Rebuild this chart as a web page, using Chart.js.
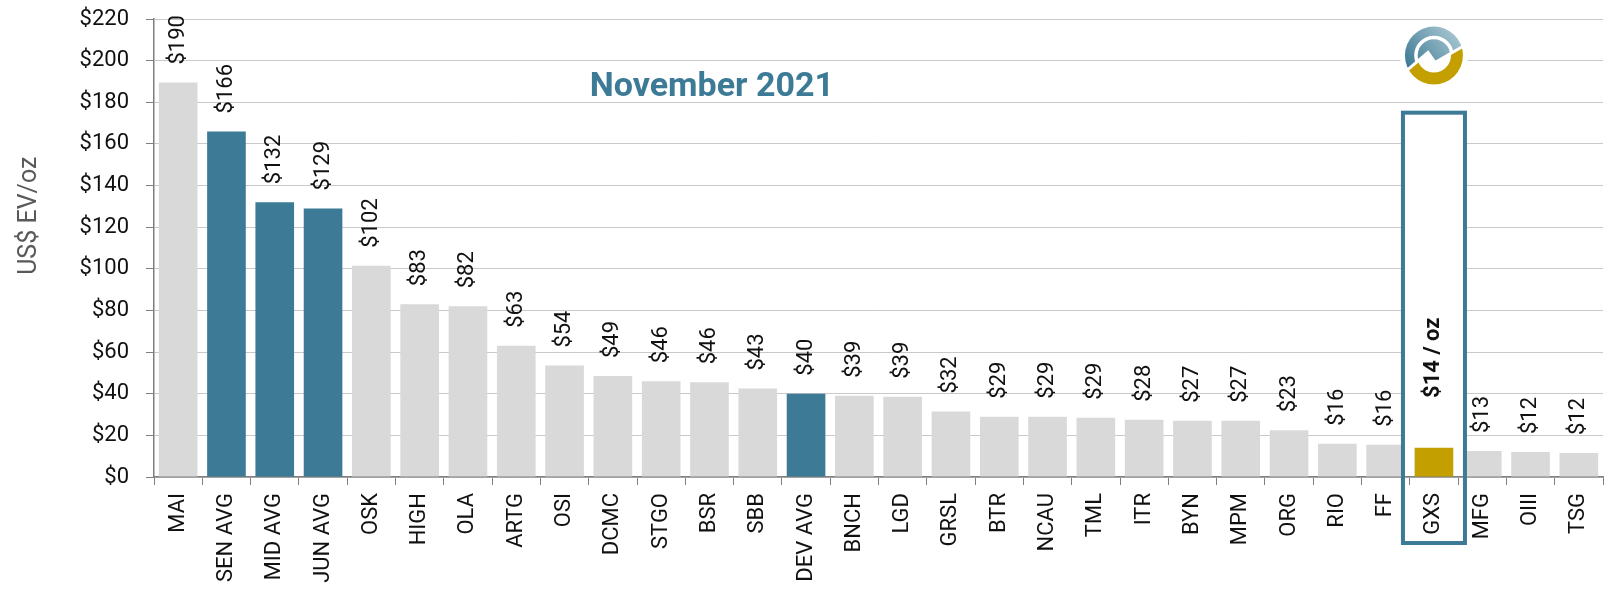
<!DOCTYPE html>
<html>
<head>
<meta charset="utf-8">
<script src="https://cdn.jsdelivr.net/npm/chart.js@4.4.1/dist/chart.umd.min.js"></script>
<style>
  html, body { margin: 0; padding: 0; background: #fff; }
  #wrap { width: 1624px; height: 594px; position: relative; }
</style>
</head>
<body>
<div id="wrap"><canvas id="evChart"></canvas></div>
<script>
const companies = [
  "MAI", "SEN AVG", "MID AVG", "JUN AVG", "OSK", "HIGH", "OLA", "ARTG", "OSI", "DCMC",
  "STGO", "BSR", "SBB", "DEV AVG", "BNCH", "LGD", "GRSL", "BTR", "NCAU", "TML",
  "ITR", "BYN", "MPM", "ORG", "RIO", "FF", "GXS", "MFG", "OIII", "TSG"
];
const evPerOz = [
  189.5, 166, 132, 129, 101.5, 83, 82, 63, 53.5, 48.5,
  46, 45.5, 42.5, 40, 39, 38.5, 31.5, 29, 29, 28.5,
  27.5, 27, 27, 22.5, 16, 15.5, 14, 12.5, 12, 11.5
];
const averages = ["SEN AVG", "MID AVG", "JUN AVG", "DEV AVG"];
const highlight = "GXS";
const highlightNote = "$14 / oz";
const yTicks = { min: 0, max: 220, step: 20 };
const yTitle = "US$ EV/oz";

const GREY = "#d9d9d9";
const BLUE = "#3c7a96";
const GOLD = "#c49f00";

const barColors = companies.map((c) =>
  c === highlight ? GOLD : averages.includes(c) ? BLUE : GREY
);

// rotated value labels above each bar
const valueLabels = {
  id: "valueLabels",
  afterDatasetsDraw(chart) {
    const { ctx, scales } = chart;
    const meta = chart.getDatasetMeta(0);
    ctx.save();
    ctx.fillStyle = "#111";
    ctx.textBaseline = "middle";
    ctx.textAlign = "left";
    meta.data.forEach((bar, i) => {
      let text = "$" + Math.round(evPerOz[i]);
      let y = bar.y - 18;
      ctx.font = "22px Roboto";
      if (companies[i] === highlight) {
        text = highlightNote;
        y = scales.y.getPixelForValue(38);
        ctx.font = "bold 22px Roboto";
      }
      ctx.save();
      ctx.translate(bar.x, y);
      ctx.rotate(-Math.PI / 2);
      ctx.fillText(text, 0, 0);
      ctx.restore();
    });
    ctx.restore();
  }
};

// box around the highlighted company, titles and logo
const decorations = {
  id: "decorations",
  beforeDatasetsDraw(chart) {
    const { ctx, scales, chartArea } = chart;
    const idx = companies.indexOf(highlight);
    const cx = scales.x.getPixelForValue(idx);
    const top = scales.y.getPixelForValue(175);
    ctx.save();
    ctx.fillStyle = "#fff";
    ctx.fillRect(cx - 29, top, 58, chartArea.bottom - top - 1);
    ctx.restore();
  },
  afterDatasetsDraw(chart) {
    const { ctx, scales, chartArea } = chart;
    const idx = companies.indexOf(highlight);
    const cx = scales.x.getPixelForValue(idx);
    const top = scales.y.getPixelForValue(175);
    const bottom = chartArea.bottom + 66;
    ctx.save();
    ctx.strokeStyle = BLUE;
    ctx.lineWidth = 4;
    ctx.strokeRect(cx - 31, top, 62, bottom - top);

    // y axis title (sits above the axis middle in the original)
    ctx.save();
    ctx.translate(30, scales.y.getPixelForValue(125.5));
    ctx.rotate(-Math.PI / 2);
    ctx.fillStyle = "#595959";
    ctx.font = "25px Roboto";
    ctx.textAlign = "center";
    ctx.textBaseline = "middle";
    ctx.fillText(yTitle, 0, 0);
    ctx.restore();

    // title
    ctx.fillStyle = BLUE;
    ctx.font = "bold 34px Roboto";
    ctx.textAlign = "center";
    ctx.textBaseline = "middle";
    ctx.fillText("November 2021", scales.x.getPixelForValue(11.05), scales.y.getPixelForValue(187));

    // logo
    const lx = cx, ly = scales.y.getPixelForValue(202.5), r = 29;
    ctx.fillStyle = "#fff";
    ctx.beginPath();
    ctx.arc(lx, ly, r + 5, 0, Math.PI * 2);
    ctx.fill();

    const zig = [[-34, 21], [-6, -3], [1, 7], [34, -12]];
    const zigPath = () => {
      ctx.beginPath();
      zig.forEach(([dx, dy], k) => (k ? ctx.lineTo(lx + dx, ly + dy) : ctx.moveTo(lx + dx, ly + dy)));
    };

    // upper part
    ctx.save();
    zigPath();
    ctx.lineTo(lx + 40, ly - 40);
    ctx.lineTo(lx - 40, ly - 40);
    ctx.closePath();
    ctx.clip();
    const grad = ctx.createLinearGradient(lx - r, ly + r * 0.4, lx + r * 0.6, ly - r);
    grad.addColorStop(0, "#3a7793");
    grad.addColorStop(1, "#a8c6d1");
    ctx.fillStyle = grad;
    ctx.beginPath();
    ctx.arc(lx, ly, r, 0, Math.PI * 2);
    ctx.fill();
    ctx.strokeStyle = "#fff";
    ctx.lineWidth = 3.5;
    ctx.beginPath();
    ctx.arc(lx, ly, 18, 0, Math.PI * 2);
    ctx.stroke();
    ctx.restore();

    // lower part
    ctx.save();
    zigPath();
    ctx.lineTo(lx + 40, ly + 40);
    ctx.lineTo(lx - 40, ly + 40);
    ctx.closePath();
    ctx.clip();
    ctx.fillStyle = GOLD;
    ctx.beginPath();
    ctx.arc(lx, ly, r, 0, Math.PI * 2);
    ctx.arc(lx, ly, 17, 0, Math.PI * 2, true);
    ctx.fill();
    ctx.restore();

    ctx.strokeStyle = "#fff";
    ctx.lineWidth = 3;
    ctx.lineJoin = "miter";
    zigPath();
    ctx.stroke();
    ctx.restore();
  }
};

new Chart(document.getElementById("evChart"), {
  type: "bar",
  data: {
    labels: companies,
    datasets: [{
      data: evPerOz,
      backgroundColor: barColors,
      barPercentage: 0.8,
      categoryPercentage: 1.0,
      borderWidth: 0
    }]
  },
  plugins: [decorations, valueLabels],
  options: {
    responsive: true,
    maintainAspectRatio: false,
    animation: false,
    layout: { padding: { top: 19, right: 21, left: 0, bottom: 0 } },
    plugins: {
      legend: { display: false },
      tooltip: { enabled: false }
    },
    scales: {
      x: {
        afterFit: (scale) => {
          scale.height = 117;
          scale.paddingLeft = 0;
          scale.paddingRight = 0;
        },
        grid: {
          display: true,
          drawOnChartArea: false,
          drawTicks: true,
          tickLength: 8,
          tickColor: "#7f7f7f",
          offset: true
        },
        border: { color: "#7f7f7f", width: 1.5 },
        ticks: {
          color: "#111",
          font: { family: "Roboto", size: 22 },
          minRotation: 90,
          maxRotation: 90,
          autoSkip: false,
          padding: 8
        }
      },
      y: {
        min: yTicks.min,
        max: yTicks.max,
        afterFit: (scale) => {
          scale.width = 154;
          scale.paddingTop = 0;
          scale.paddingBottom = 0;
        },
        title: { display: false },
        grid: {
          color: "#c9c9c9",
          borderDash: [2, 2],
          tickBorderDash: [],
          tickColor: "#7f7f7f",
          tickLength: 8
        },
        border: { color: "#7f7f7f", width: 1.5 },
        ticks: {
          stepSize: yTicks.step,
          color: "#111",
          font: { family: "Roboto", size: 22 },
          padding: 17,
          callback: (v) => "$" + v
        }
      }
    }
  }
});
</script>
</body>
</html>
